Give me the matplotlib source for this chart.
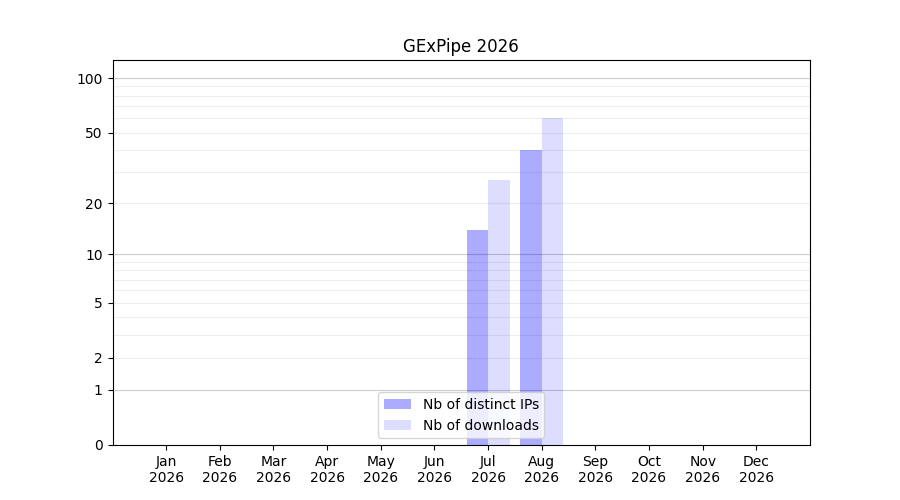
import numpy as np
import matplotlib
matplotlib.use('Agg')
import matplotlib.pyplot as plt

months = ['Jan', 'Feb', 'Mar', 'Apr', 'May', 'Jun',
          'Jul', 'Aug', 'Sep', 'Oct', 'Nov', 'Dec']
year = '2026'
distinct_ips = [0, 0, 0, 0, 0, 0, 14, 40, 0, 0, 0, 0]
downloads = [0, 0, 0, 0, 0, 0, 27, 60, 0, 0, 0, 0]

ytick_vals = [0, 1, 2, 5, 10, 20, 50, 100]
major_grid = [1, 10, 100]
minor_grid = [2, 3, 4, 5, 6, 7, 8, 9, 20, 30, 40, 50, 60, 70, 80, 90]

fig, ax = plt.subplots(figsize=(9, 5), dpi=100)

# log(1 + x) so zero months still sit on the axis
ax.set_yscale('function', functions=(lambda v: np.log10(1 + np.clip(v, 0, None)),
                                     lambda v: 10 ** v - 1))

for v in minor_grid:
    ax.axhline(v, color='#eeeeee', lw=0.8, zorder=0)
for v in major_grid:
    ax.axhline(v, color='#cccccc', lw=0.8, zorder=1)

x = np.arange(len(months))
ax.bar(x, distinct_ips, width=-0.4, align='edge', color='blue', alpha=0.33,
       lw=0, label='Nb of distinct IPs', zorder=2)
ax.bar(x, downloads, width=0.4, align='edge', color='blue', alpha=0.135,
       lw=0, label='Nb of downloads', zorder=2)

ax.set_ylim(0, 126)
ax.set_xlim(-1, 12)
ax.set_yticks(ytick_vals)
ax.set_yticklabels([str(v) for v in ytick_vals])
ax.yaxis.set_minor_locator(matplotlib.ticker.NullLocator())
ax.set_xticks(x)
ax.set_xticklabels([m + '\n' + year for m in months])

ax.set_title('GExPipe ' + year)
ax.legend(loc='lower center')

fig.savefig('out.png')
